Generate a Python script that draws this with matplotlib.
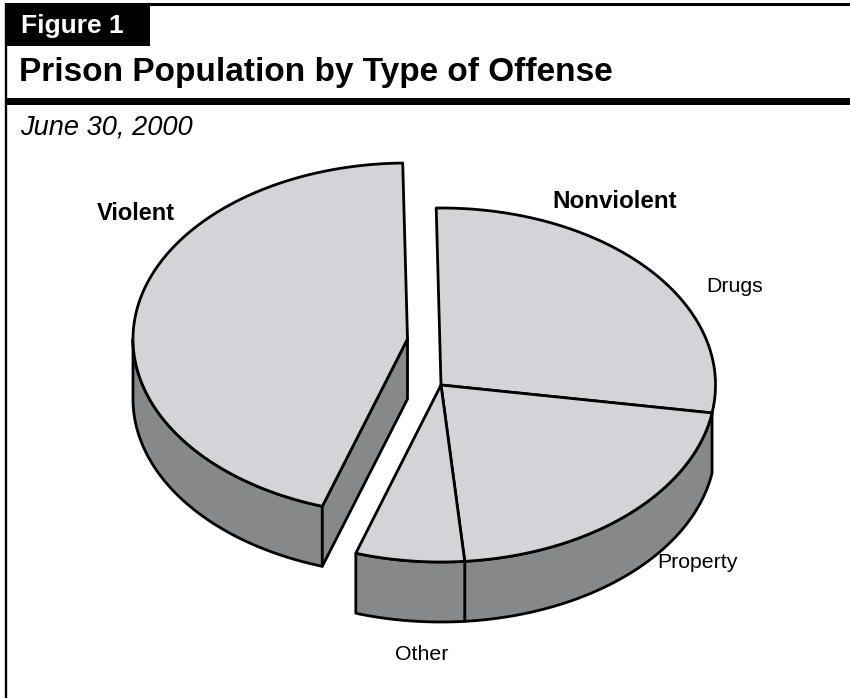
import numpy as np
import matplotlib
matplotlib.use("Agg")
import matplotlib.pyplot as plt

# share of prison population, percent
offenses = ["Violent", "Drugs", "Property", "Other"]
shares = [44.7, 27.8, 21.1, 6.4]

TOP = "#d3d3d8"
SIDE = "#87888a"
LW = 2.0

plt.rcParams["font.family"] = ["Liberation Sans", "DejaVu Sans"]

fig = plt.figure(figsize=(8.5, 6.98), dpi=100)
ax = fig.add_axes([0, 0, 1, 1])
ax.set_xlim(0, 850)
ax.set_ylim(698, 0)
ax.axis("off")

# pie shape: center x, center y, vertical radius
rx = 274.5
depth = 60
start = 91.0
centers = {"Violent": (407.5, 339, 176), "Drugs": (441, 385, 177), "Property": (441, 385, 177), "Other": (441, 385, 177)}


def rim(c, a1, a2, drop=0):
    t = np.radians(np.linspace(a1, a2, 120))
    return c[0] + rx * np.cos(t), c[1] - c[2] * np.sin(t) + drop


def wall(c, a1, a2):
    x, y = rim(c, a1, a2)
    x2, y2 = rim(c, a2, a1, depth)
    ax.fill(np.r_[x, x2], np.r_[y, y2], fc=SIDE, ec="k", lw=LW, joinstyle="round")


# sweep of each slice: violent runs counterclockwise from the top, the rest clockwise
sweep = np.array(shares) * 3.6
angles = {"Violent": (start, start + sweep[0])}
a = start
for name, s in zip(offenses[1:], sweep[1:]):
    angles[name] = (a, a - s)
    a -= s

# side walls first, tops go over them
c = centers["Violent"]
a2 = angles["Violent"][1]
wall(c, 180, a2)
ex, ey = rim(c, a2, a2)
ex, ey = ex[0], ey[0]
ax.fill([ex, c[0], c[0], ex], [ey, c[1], c[1] + depth, ey + depth], fc=SIDE, ec="k", lw=LW, joinstyle="round")

c = centers["Property"]
wall(c, angles["Property"][0], angles["Property"][1])
wall(c, angles["Other"][0], angles["Other"][1])

for name in offenses:
    c = centers[name]
    x, y = rim(c, *angles[name])
    ax.fill(np.r_[c[0], x], np.r_[c[1], y], fc=TOP, ec="k", lw=LW, joinstyle="round")

# frame and heading
ax.plot([6, 6], [3, 698], color="k", lw=1.7, solid_capstyle="butt")
ax.plot([5, 850], [4, 4], color="k", lw=2.2, solid_capstyle="butt")
ax.fill_between([5, 850], 97.5, 105, color="k", lw=0)
ax.fill_between([5, 150], 4, 46, color="k", lw=0)

ax.text(21, 25.5, "Figure 1", color="w", fontsize=19, fontweight="bold", va="center", ha="left")
ax.text(19, 73, "Prison Population by Type of Offense", color="k", fontsize=24, fontweight="bold", va="center", ha="left")
ax.text(20, 128, "June 30, 2000", color="k", fontsize=19.6, fontstyle="italic", va="center", ha="left")

ax.text(136, 214, "Violent", fontsize=17, fontweight="bold", va="center", ha="center")
ax.text(615, 201, "Nonviolent", fontsize=17.4, fontweight="bold", va="center", ha="center")
ax.text(735, 286, "Drugs", fontsize=15.3, va="center", ha="center")
ax.text(697, 562, "Property", fontsize=15.3, va="center", ha="center")
ax.text(422, 655, "Other", fontsize=15.3, va="center", ha="center")

fig.savefig("out.png", dpi=100)
